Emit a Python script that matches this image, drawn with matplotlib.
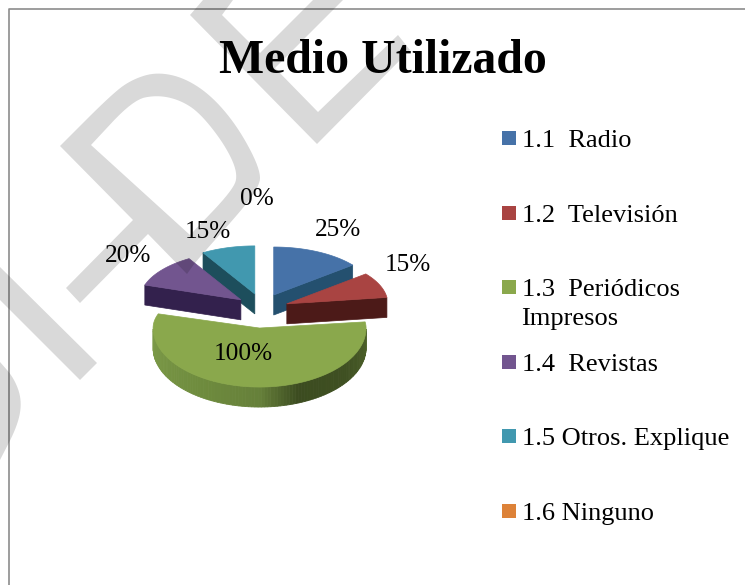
import numpy as np
import matplotlib
matplotlib.use('Agg')
import matplotlib.pyplot as plt
from matplotlib.colors import LinearSegmentedColormap
from matplotlib.patches import Polygon, PathPatch, Rectangle
from matplotlib.path import Path

categorias = ['1.1  Radio', '1.2  Televisión', '1.3  Periódicos\nImpresos',
              '1.4  Revistas', '1.5 Otros. Explique', '1.6 Ninguno']
valores = [25, 15, 100, 20, 15, 0]
etiquetas = ['25%', '15%', '100%', '20%', '15%', '0%']

colores = ['#4672a8', '#a94442', '#8aa84c', '#72558f', '#4198af', '#dd8238']
paredes = ['#24506f', '#4c1a18', '#5f7a33', '#33214d', '#1d4e5c', '#8a4d1c']

plt.rcParams['font.family'] = ['Liberation Serif', 'DejaVu Serif']

fig = plt.figure(figsize=(7.45, 5.85), dpi=100)
ax = fig.add_axes([0, 0, 1, 1])
ax.set_xlim(0, 745)
ax.set_ylim(585, 0)
ax.axis('off')

# marco del grafico
ax.plot([9, 9, 745], [585, 8.5, 8.5], color='#8c8c8c', lw=1.2, zorder=1)

# pastel 3D: angulos desde las 12 en sentido horario
cx, cy = 262, 310.7
sep = 27
k = 0.645
alto = 20
total = sum(valores)
angulos = np.radians(np.cumsum([0] + valores) / total * 360)


def borde(t, x0, y0, rx, ry_atras, ry_frente):
    c = np.cos(t)
    ry = np.where(c > 0, ry_atras, ry_frente)
    return x0 + rx * np.sin(t), y0 - ry * c


def suavizar(puntos, veces=3):
    # esquinas redondeadas para las letras curvas
    p = np.array(puntos, dtype=float)
    for _ in range(veces):
        q = 0.75 * p[:-1] + 0.25 * p[1:]
        r = 0.25 * p[:-1] + 0.75 * p[1:]
        p = np.vstack([p[0], np.column_stack([q, r]).reshape(-1, 2), p[-1]])
    return [tuple(v) for v in p]


orden = [0, 4, 3, 1, 2]
for i in orden:
    a, b = angulos[i], angulos[i + 1]
    m = (a + b) / 2
    x0 = cx + sep * np.sin(m)
    y0 = cy - sep * k * np.cos(m)
    es_frente = valores[i] == max(valores)
    rx = 106.5 if es_frente else 101
    ry_a = 46 if es_frente else 48
    t = np.linspace(a, b, 120)
    xs, ys = borde(t, x0, y0, rx, ry_a, 59)

    if es_frente:
        # pared curva con degradado
        cmap = LinearSegmentedColormap.from_list(
            'lado', [(0, '#4d6229'), (0.2, '#3f5022'), (0.38, '#3c4c20'), (0.5, '#66803a'),
                     (0.7, '#6f8c3e'), (1, '#7c9a48')])
        vis = np.where((t > np.pi / 2) & (t < 3 * np.pi / 2))[0]
        for n, j in enumerate(vis[:-1]):
            qx = [xs[j], xs[j + 1], xs[j + 1], xs[j]]
            qy = [ys[j], ys[j + 1], ys[j + 1] + alto, ys[j] + alto]
            col = cmap(n / (len(vis) - 2))
            ax.add_patch(Polygon(np.c_[qx, qy], fc=col, ec=col, lw=0.6, zorder=3))
    else:
        # pared recta hacia el frente
        if np.cos(m) > 0 and np.sin(m) > 0:
            ex, ey = xs[-1], ys[-1]
        else:
            ex, ey = xs[0], ys[0]
        ax.add_patch(Polygon([[x0, y0], [ex, ey], [ex, ey + alto], [x0, y0 + alto]],
                             fc=paredes[i], ec=paredes[i], lw=0.5, zorder=3))
    ax.add_patch(Polygon(np.c_[np.r_[x0, xs], np.r_[y0, ys]], fc=colores[i],
                         ec=colores[i], lw=0.5, zorder=3))

# etiquetas de porcentaje
pos_etiquetas = [(338, 230), (408, 265), (243, 354), (128, 256), (208, 232), (257, 199)]
for txt, (x, y) in zip(etiquetas, pos_etiquetas):
    ax.text(x, y, txt, fontsize=18.2, ha='center', va='center', color='black', zorder=5)

ax.text(383, 73, 'Medio Utilizado', fontsize=34.4, fontweight='bold', ha='center',
        va='baseline', color='black', zorder=5)

# leyenda
filas_y = [138, 213, 287, 362, 436, 511]
for nombre, color, y in zip(categorias, colores, filas_y):
    ax.add_patch(Rectangle((502, y - 7), 14, 14, fc=color, ec='none', zorder=5))
    for n, linea in enumerate(nombre.split('\n')):
        ax.text(522 - n, y + 9 + 29.5 * n, linea, fontsize=19, ha='left', va='baseline',
                color='black', zorder=5)

# marca de agua gris (letras cortadas)
letra_e = [(203, 0), (190, 15), (317, 144), (410, 50), (398, 35), (318, 112), (275, 68),
           (343, 0), (313, 0), (260, 53), (222, 15), (233, 0)]
arco_r = [(60, 146), (113, 93), (133, 79), (157, 72), (185, 78), (213, 97), (240, 130),
          (262, 173), (257, 190), (240, 212), (197, 260), (187, 274)]
resto_r = [(148, 234), (80, 303), (66, 288), (133, 220)]
hueco_r = [(190, 235), (233, 190), (238, 173), (225, 145), (200, 113), (180, 100),
           (157, 95), (133, 100), (91, 145)]
palo = [(0, 267), (97, 363), (80, 380), (0, 300)]
curva = [(0, 362), (14, 378), (22, 400), (18, 425), (0, 460)]

letra_r = suavizar(arco_r) + resto_r
hueco_r = suavizar(hueco_r)
curva = suavizar(curva)

for forma in [letra_e, palo, curva]:
    ax.add_patch(Polygon(forma, fc='black', ec='none', alpha=0.15, zorder=4))
verts = letra_r + [letra_r[0]] + hueco_r + [hueco_r[0]]
codes = [Path.MOVETO] + [Path.LINETO] * (len(letra_r) - 1) + [Path.CLOSEPOLY] + \
        [Path.MOVETO] + [Path.LINETO] * (len(hueco_r) - 1) + [Path.CLOSEPOLY]
ax.add_patch(PathPatch(Path(verts, codes), fc='black', ec='none', alpha=0.15, zorder=4))

fig.savefig('out.png', dpi=100)
